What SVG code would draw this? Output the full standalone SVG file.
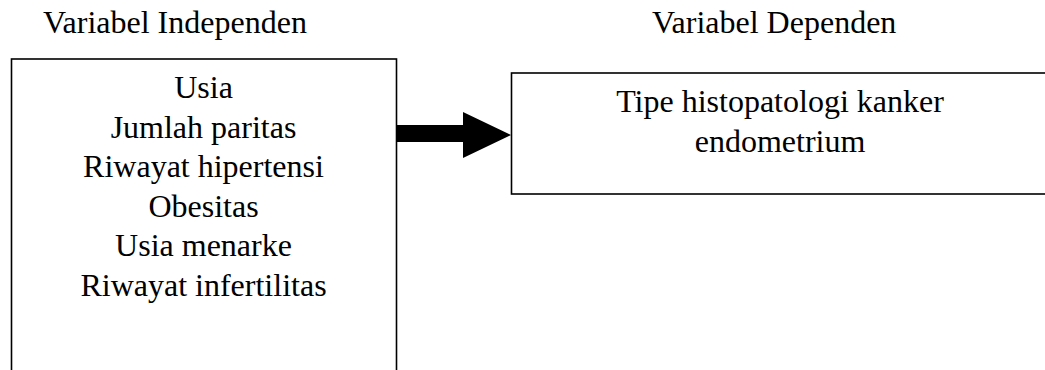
<svg xmlns="http://www.w3.org/2000/svg" width="1045" height="370" viewBox="0 0 1045 370">
<style>
text{font-family:"Liberation Serif","Times New Roman",serif;fill:#000;font-size:32px}
.b{text-anchor:middle}
.box{fill:#fff;stroke:#000;stroke-width:1.6}
</style>
<rect width="1045" height="370" fill="#fff"/>
<g id="header-independen"><text x="43" y="33">Variabel Independen</text></g>
<g id="header-dependen"><text x="652" y="33">Variabel Dependen</text></g>
<g id="node-independen">
<rect class="box" x="11.5" y="59" width="385" height="330"/>
<text class="b" x="203.5" y="98">Usia</text>
<text class="b" x="203.5" y="137.5">Jumlah paritas</text>
<text class="b" x="203.5" y="177">Riwayat hipertensi</text>
<text class="b" x="203.5" y="216.5">Obesitas</text>
<text class="b" x="203.5" y="256">Usia menarke</text>
<text class="b" x="203.5" y="295.5">Riwayat infertilitas</text>
</g>
<g id="node-dependen">
<rect class="box" x="511.5" y="73" width="560" height="121"/>
<text class="b" x="780" y="112">Tipe histopatologi kanker</text>
<text class="b" x="780" y="152">endometrium</text>
</g>
<g id="connectors">
<polygon points="397,125 463,125 463,112 511,135 463,158 463,142 397,142" fill="#000"/>
</g>
</svg>
